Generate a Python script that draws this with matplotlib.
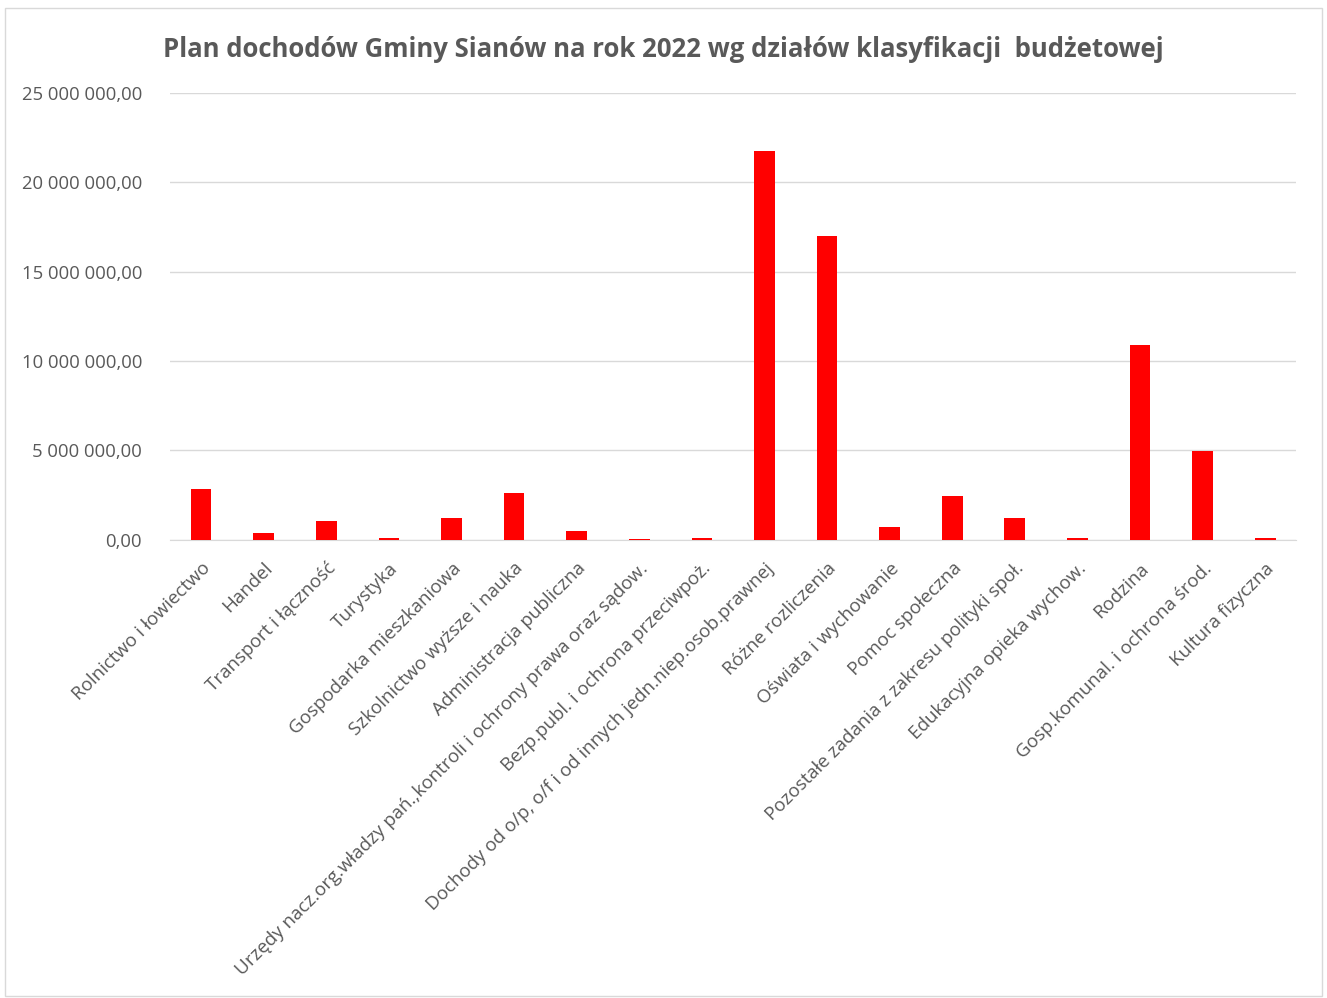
import matplotlib
matplotlib.use("Agg")
import matplotlib.pyplot as plt
from matplotlib.ticker import FuncFormatter

kategorie = [
    "Rolnictwo i łowiectwo",
    "Handel",
    "Transport i łączność",
    "Turystyka",
    "Gospodarka mieszkaniowa",
    "Szkolnictwo wyższe i nauka",
    "Administracja publiczna",
    "Urzędy nacz.org.władzy pań.,kontroli i ochrony prawa oraz sądow.",
    "Bezp.publ. i ochrona przeciwpoż.",
    "Dochody od o/p, o/f i od innych jedn.niep.osob.prawnej",
    "Różne rozliczenia",
    "Oświata i wychowanie",
    "Pomoc społeczna",
    "Pozostałe zadania z zakresu polityki społ.",
    "Edukacyjna opieka wychow.",
    "Rodzina",
    "Gosp.komunal. i ochrona środ.",
    "Kultura fizyczna",
]
dochody = [
    2850000, 400000, 1060000, 90000, 1230000, 2630000, 500000, 70000, 90000,
    21760000, 17000000, 730000, 2460000, 1230000, 90000, 10900000, 4980000, 80000,
]
yticks = [0, 5000000, 10000000, 15000000, 20000000, 25000000]

plt.rcParams['font.family'] = ['Open Sans', 'DejaVu Sans']
szary = '#595959'

fig = plt.figure(figsize=(13.27, 9.98), dpi=100)
ax = fig.add_axes([0.128, 0.459, 0.849, 0.448])

x = range(len(kategorie))
ax.bar(x, dochody, width=0.33, color='#ff0000', zorder=3)

ax.set_xlim(-0.5, len(kategorie) - 0.5)
ax.set_ylim(0, 25000000)
ax.set_yticks(yticks)
ax.yaxis.set_major_formatter(FuncFormatter(
    lambda v, p: '{:,.2f}'.format(v).replace(',', ' ').replace('.', ',')))
ax.grid(axis='y', color='#d9d9d9', linewidth=1, zorder=0)
ax.set_xticks(list(x))
ax.set_xticklabels(kategorie, rotation=45, ha='right', rotation_mode='anchor',
                   fontsize=13.5, color=szary)
ax.tick_params(axis='y', labelsize=13.3, labelcolor=szary, length=0, pad=20)
ax.tick_params(axis='x', length=0, pad=14)
for s in ['top', 'right', 'left']:
    ax.spines[s].set_visible(False)
ax.spines['bottom'].set_color('#d9d9d9')

fig.text(0.5, 0.950, 'Plan dochodów Gminy Sianów na rok 2022 wg działów klasyfikacji  budżetowej',
         ha='center', va='center', fontsize=18.5, fontweight='bold', color=szary)

# ramka wykresu
fig.patches.append(plt.Rectangle((0.004, 0.002), 0.992, 0.99, transform=fig.transFigure,
                                 fill=False, edgecolor='#d9d9d9', linewidth=1))

fig.savefig('out.png', dpi=100)
